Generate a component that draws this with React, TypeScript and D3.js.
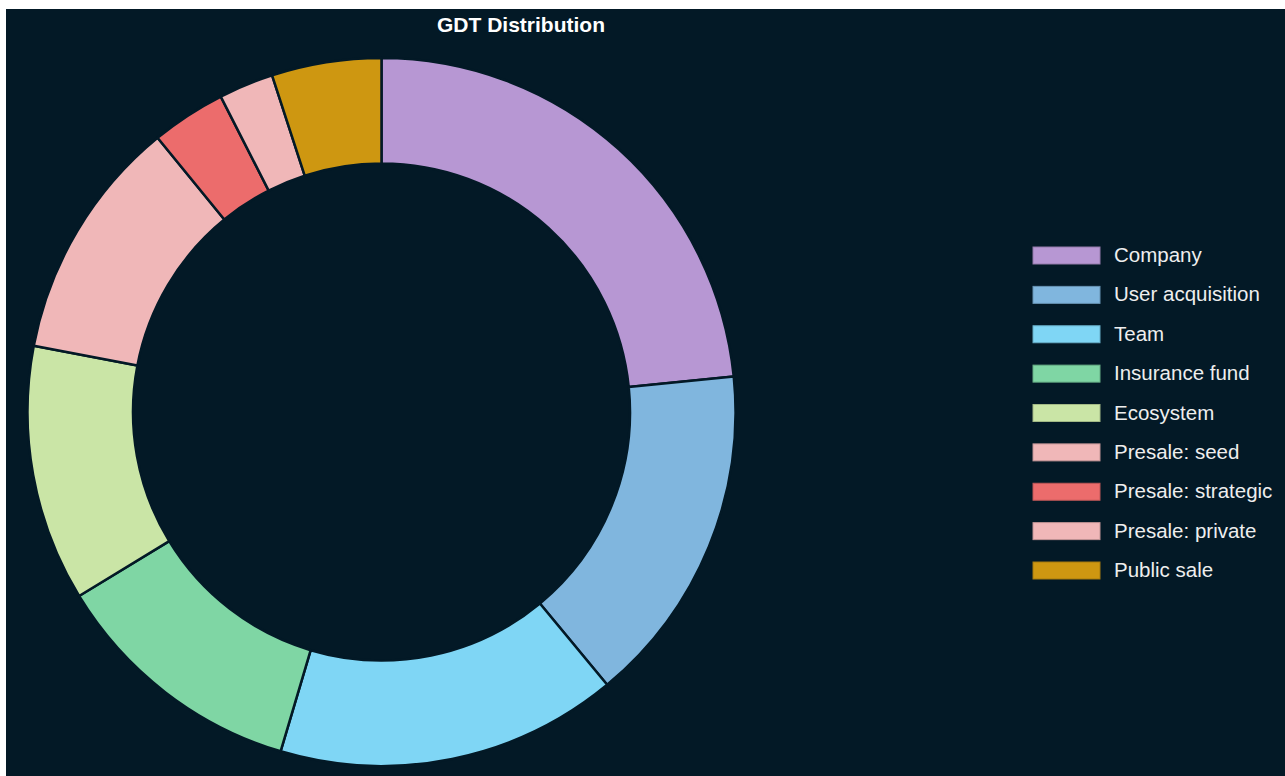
import React from "react";
import * as d3 from "d3";

const categories = [
  "Company",
  "User acquisition",
  "Team",
  "Insurance fund",
  "Ecosystem",
  "Presale: seed",
  "Presale: strategic",
  "Presale: private",
  "Public sale",
];
const values = [234, 156, 156, 117, 117, 111, 34, 25, 50];
const colors = [
  "#b797d3",
  "#80b6de",
  "#7fd6f5",
  "#7fd6a4",
  "#cae5a6",
  "#f0b7b8",
  "#ec6c6c",
  "#f0b7b8",
  "#ce9711",
];
const title = "GDT Distribution";

const W = 1285;
const H = 776;
const BG = "#031926";

export default function App() {
  const cx = 381.5;
  const cy = 412;
  const outerR = 354;
  const innerR = 248.5;

  const data = categories.map((c, i) => ({ name: c, value: values[i], color: colors[i] }));
  const pie = d3.pie<any>().value((d: any) => d.value).sort(null);
  const arcs = pie(data);
  const arcGen = d3.arc<any>().innerRadius(innerR).outerRadius(outerR);

  const legendY = d3
    .scalePoint<string>()
    .domain(categories)
    .range([255.5, 570.5]);

  return (
    <svg
      width={W}
      height={H}
      style={{ position: "absolute", left: 0, top: 0, display: "block" }}
    >
      <rect x={0} y={0} width={W} height={H} fill="#ffffff" />
      <rect x={6} y={9} width={W - 6} height={H - 9} fill={BG} />
      <text
        x={521}
        y={31.5}
        textAnchor="middle"
        fill="#ffffff"
        fontFamily="'Liberation Sans', Arial, sans-serif"
        fontWeight="bold"
        fontSize={21}
      >
        {title}
      </text>
      <g transform={`translate(${cx},${cy})`}>
        {arcs.map((a, i) => (
          <path
            key={i}
            d={arcGen(a) as string}
            fill={a.data.color}
            stroke={BG}
            strokeWidth={2.5}
            strokeLinejoin="round"
          />
        ))}
      </g>
      <g>
        {data.map((d, i) => {
          const y = legendY(d.name) as number;
          return (
            <g key={i}>
              <rect
                x={1033}
                y={y - 8.5}
                width={67}
                height={17}
                fill={d.color}
                stroke={d3.color(d.color)!.darker(0.6).toString()}
                strokeWidth={1}
              />
              <text
                x={1114}
                y={y + 6.5}
                fill="#eeeeee"
                fontFamily="'Liberation Sans', Arial, sans-serif"
                fontSize={20.5}
              >
                {d.name}
              </text>
            </g>
          );
        })}
      </g>
    </svg>
  );
}
